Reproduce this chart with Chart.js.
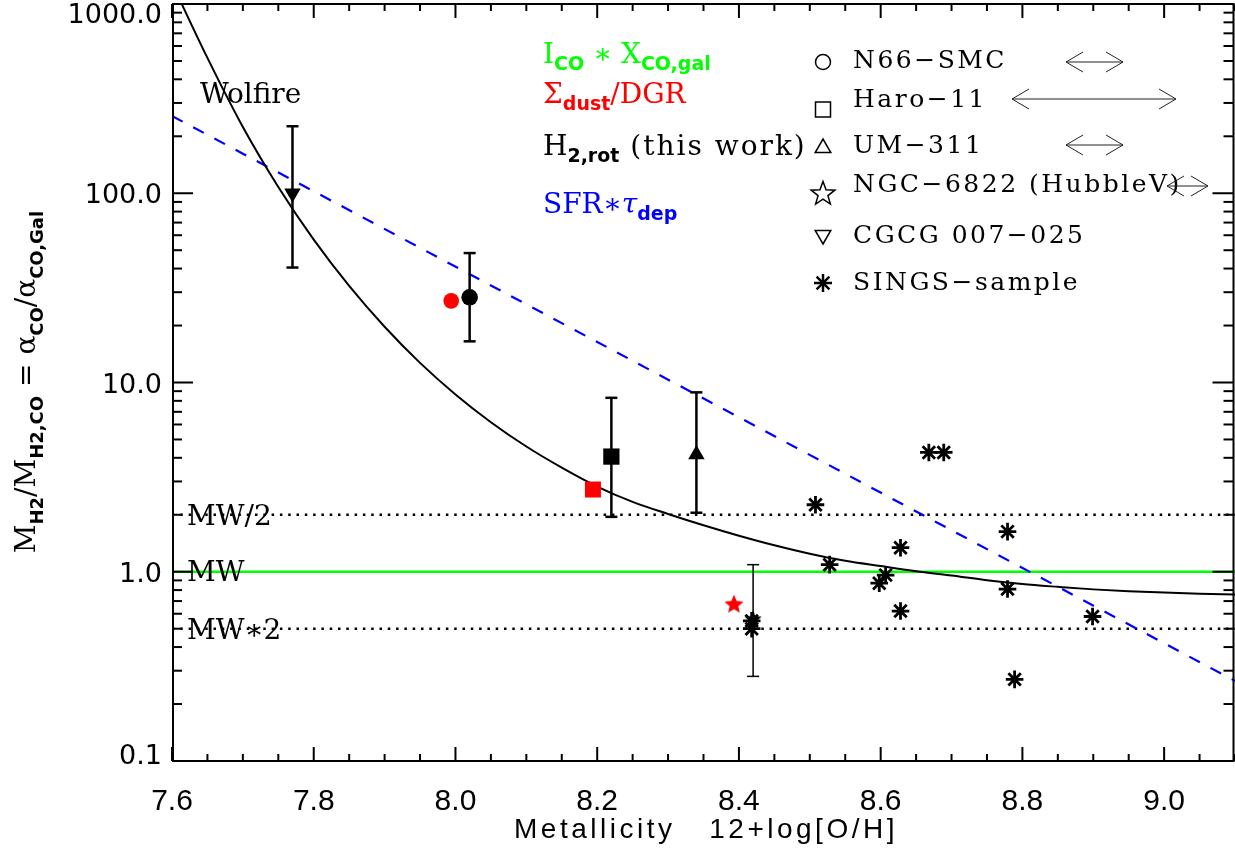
<!DOCTYPE html>
<html lang="en">
<head>
<meta charset="UTF-8">
<title>alpha_CO versus metallicity</title>
<script src="https://cdn.jsdelivr.net/npm/chart.js"></script>
<style>
  html, body { margin: 0; padding: 0; background: #fff; }
  #wrap { width: 1235px; height: 852px; }
</style>
</head>
<body>
<div id="wrap"><canvas id="alphaChart" width="1235" height="852"></canvas></div>
<script>
// Wolfire et al. model curve
const wolfireZ     = [7.60, 7.65, 7.70, 7.75, 7.80, 7.85, 7.90, 7.95, 8.00, 8.05, 8.10, 8.15, 8.20, 8.25, 8.30, 8.35, 8.40, 8.45, 8.50, 8.55, 8.60, 8.65, 8.70, 8.75, 8.80, 8.85, 8.90, 8.95, 9.00, 9.05, 9.10];
const wolfireRatio = [1288, 519, 224, 108, 56.9, 32.4, 19.7, 12.7, 8.65, 6.17, 4.59, 3.55, 2.82, 2.34, 2.02, 1.76, 1.55, 1.38, 1.245, 1.143, 1.072, 1.007, 0.955, 0.902, 0.861, 0.832, 0.807, 0.789, 0.776, 0.766, 0.759];

// SFR * tau_dep relation (straight line in log space)
const sfrZ     = [7.6, 9.1];
const sfrRatio = [256, 0.265];

// Milky Way reference levels
const mwZ = [7.6, 9.1];
const mwRatio = 1.0;
const mwHalf = 2.0;
const mwDouble = 0.5;

// H2 rotational lines (this work): CGCG 007-025, N66-SMC, Haro-11, UM-311, NGC-6822
const h2Z     = [7.77, 8.02, 8.22, 8.34, 8.42];
const h2Ratio = [100, 28.2, 4.06, 4.16, 0.56];
const h2Lo    = [40.5, 16.5, 1.95, 2.05, 0.28];
const h2Hi    = [226, 48.3, 8.3, 8.87, 1.09];

// dust mass / DGR: N66-SMC, Haro-11, NGC-6822
const dustZ     = [7.994, 8.194, 8.393];
const dustRatio = [27, 2.72, 0.67];

// SINGS sample
const singsZ     = [8.508, 8.668, 8.689, 8.528, 8.628, 8.607, 8.598, 8.628, 8.779, 8.779, 8.899, 8.789, 8.418, 8.418];
const singsRatio = [2.26, 4.27, 4.27, 1.09, 1.34, 0.96, 0.87, 0.62, 1.63, 0.81, 0.58, 0.27, 0.55, 0.50];

// axis ticks
const xTickVals = [7.6, 7.8, 8.0, 8.2, 8.4, 8.6, 8.8, 9.0];
const yTickVals = [0.1, 1, 10, 100, 1000];

const SERIF = '"DejaVu Serif", serif';
const SANS = '"DejaVu Sans", sans-serif';
const LSANS = '"Liberation Sans", sans-serif';

const pts = (xs, ys) => xs.map((v, i) => ({ x: v, y: Array.isArray(ys) ? ys[i] : ys }));

function starImage(color, R) {
    const s = Math.ceil(R * 2 + 2);
    const c = document.createElement('canvas');
    c.width = s; c.height = s;
    const g = c.getContext('2d');
    g.fillStyle = color;
    g.beginPath();
    for (let i = 0; i < 10; i++) {
        const r = i % 2 ? R * 0.45 : R;
        const a = -Math.PI / 2 + i * Math.PI / 5;
        g.lineTo(s / 2 + r * Math.cos(a), s / 2 + r * Math.sin(a));
    }
    g.closePath();
    g.fill();
    return c;
}

// text with subscripts: parts = [[text, font, dy, letterSpacing], ...]
function richWidth(ctx, parts) {
    let w = 0;
    parts.forEach(p => {
        ctx.font = p[1];
        ctx.letterSpacing = (p[3] || 0) + 'px';
        w += ctx.measureText(p[0]).width;
    });
    ctx.letterSpacing = '0px';
    return w;
}
function drawRich(ctx, parts, x, y, color, center) {
    ctx.save();
    ctx.fillStyle = color;
    ctx.textAlign = 'left';
    ctx.textBaseline = 'alphabetic';
    if (center) x -= richWidth(ctx, parts) / 2;
    parts.forEach(p => {
        ctx.font = p[1];
        ctx.letterSpacing = (p[3] || 0) + 'px';
        ctx.fillText(p[0], x, y + (p[2] || 0));
        x += ctx.measureText(p[0]).width;
    });
    ctx.restore();
}

function line(ctx, x1, y1, x2, y2) {
    ctx.beginPath(); ctx.moveTo(x1, y1); ctx.lineTo(x2, y2); ctx.stroke();
}

const errorBars = {
    id: 'errorBars',
    afterDatasetsDraw(chart) {
        const { ctx, scales: { x, y } } = chart;
        ctx.save();
        ctx.strokeStyle = '#000';
        h2Z.forEach((z, i) => {
            const px = x.getPixelForValue(z);
            const top = y.getPixelForValue(h2Hi[i]);
            const bot = y.getPixelForValue(h2Lo[i]);
            ctx.lineWidth = i === 4 ? 1.5 : 2.5;
            line(ctx, px, top, px, bot);
            line(ctx, px - 6, top, px + 6, top);
            line(ctx, px - 6, bot, px + 6, bot);
        });
        ctx.restore();
    }
};

const decorations = {
    id: 'decorations',
    afterDraw(chart) {
        const { ctx, chartArea: a, scales: { x, y } } = chart;
        ctx.save();
        ctx.strokeStyle = '#000';
        ctx.lineWidth = 2;
        ctx.strokeRect(a.left + 1, a.top, a.right - a.left - 2.5, a.bottom - a.top);

        // minor / major ticks on all four sides
        for (let i = 0; i <= 30; i++) {
            const px = x.getPixelForValue(7.6 + i * 0.05);
            const len = i % 4 === 0 ? 14 : 7;
            line(ctx, px, a.bottom, px, a.bottom - len);
            line(ctx, px, a.top, px, a.top + len);
        }
        for (let d = -1; d <= 3; d++) {
            for (let m = 1; m <= 9; m++) {
                const v = m * Math.pow(10, d);
                if (v > 1000) break;
                const py = y.getPixelForValue(v);
                const len = m === 1 ? 21 : 10;
                line(ctx, a.left, py, a.left + len, py);
                line(ctx, a.right - 1.5, py, a.right - 1.5 - len, py);
            }
        }

        // y tick labels
        ctx.fillStyle = '#000';
        ctx.font = '27px ' + SANS;
        ctx.textAlign = 'right';
        ctx.textBaseline = 'middle';
        yTickVals.forEach(v => {
            const py = Math.min(Math.max(y.getPixelForValue(v) + 3, 16), 757);
            ctx.fillText(v.toFixed(1), 162, py);
        });

        // x title
        ctx.font = '28px ' + LSANS;
        ctx.textAlign = 'left';
        ctx.textBaseline = 'alphabetic';
        ctx.letterSpacing = '3.5px';
        ctx.fillText('Metallicity   12+log[O/H]', 514, 838);
        ctx.letterSpacing = '0px';

        // y title
        const big = '28px ' + SERIF, sub = 'bold 18px ' + SANS;
        ctx.save();
        ctx.translate(35, 382);
        ctx.rotate(-Math.PI / 2);
        drawRich(ctx, [['M', big], ['H2', sub, 8], ['/M', big], ['H2,CO', sub, 8], [' = ', big],
                       ['\u03b1', big], ['CO', sub, 8], ['/\u03b1', big], ['CO,Gal', sub, 8]], 0, 0, '#000', true);
        ctx.restore();

        // reference level labels
        const lab = '28px ' + SERIF;
        ctx.font = lab;
        ctx.textAlign = 'left';
        ctx.fillText('MW/2', 187, y.getPixelForValue(mwHalf) + 10);
        ctx.fillText('MW', 187, y.getPixelForValue(mwRatio) + 9);
        ctx.fillText('MW\u22172', 187, y.getPixelForValue(mwDouble) + 10);
        ctx.fillText('Wolfire', 200, 103);

        // method key
        const s2 = 'bold 19px ' + SANS;
        drawRich(ctx, [['I', lab], ['CO', s2, 7], [' \u2217 ', lab], ['X', lab], ['CO,gal', s2, 7]], 543, 63, '#00ff00');
        drawRich(ctx, [['\u03a3', lab], ['dust', s2, 7], ['/DGR', lab]], 543, 103, '#ff0000');
        drawRich(ctx, [['H', lab], ['2,rot', s2, 7], [' (this work)', lab, 0, 2]], 543, 155, '#000');
        drawRich(ctx, [['SFR\u2217', lab], ['\u03c4', 'italic 28px ' + SERIF], ['dep', s2, 7]], 543, 213, '#0000ff');

        // object key
        ctx.font = '25px ' + SERIF;
        ctx.letterSpacing = '2.5px';
        ctx.textBaseline = 'middle';
        const names = ['N66\u2212SMC', 'Haro\u221211', 'UM\u2212311', 'NGC\u22126822 (HubbleV)', 'CGCG 007\u2212025', 'SINGS\u2212sample'];
        const rows = [61, 100, 146, 185, 236, 283];
        names.forEach((n, i) => ctx.fillText(n, 853, rows[i]));
        ctx.letterSpacing = '0px';

        ctx.lineWidth = 1.5;
        const sx = 823;
        ctx.beginPath(); ctx.arc(sx, 62, 7.5, 0, Math.PI * 2); ctx.stroke();
        ctx.strokeRect(sx - 7.5, 102, 15, 15);
        const tri = (cy, dir) => {
            ctx.beginPath();
            ctx.moveTo(sx, cy - dir * 9);
            ctx.lineTo(sx + 7.8, cy + dir * 4.5);
            ctx.lineTo(sx - 7.8, cy + dir * 4.5);
            ctx.closePath(); ctx.stroke();
        };
        tri(148, 1);
        tri(235, -1);
        ctx.beginPath();
        for (let i = 0; i < 10; i++) {
            const r = i % 2 ? 5.2 : 12.5;
            const ang = -Math.PI / 2 + i * Math.PI / 5;
            ctx.lineTo(sx + r * Math.cos(ang), 194 + r * Math.sin(ang));
        }
        ctx.closePath(); ctx.stroke();
        ctx.lineWidth = 2.5;
        line(ctx, sx, 274, sx, 292);
        line(ctx, sx - 9, 283, sx + 9, 283);
        line(ctx, sx - 6.4, 276.6, sx + 6.4, 289.4);
        line(ctx, sx - 6.4, 289.4, sx + 6.4, 276.6);

        // range arrows in the key
        ctx.lineWidth = 1;
        ctx.strokeStyle = '#222';
        [[1066, 1123, 62], [1012, 1176, 99], [1066, 1123, 145], [1167, 1208, 186]].forEach(([x1, x2, yy]) => {
            line(ctx, x1, yy, x2, yy);
            line(ctx, x1, yy, x1 + 17, yy - 10); line(ctx, x1, yy, x1 + 17, yy + 10);
            line(ctx, x2, yy, x2 - 17, yy - 10); line(ctx, x2, yy, x2 - 17, yy + 10);
        });
        ctx.restore();
    }
};

const redStar = starImage('#ff0000', 10);
const blackStar = starImage('#000000', 9);

new Chart(document.getElementById('alphaChart'), {
    type: 'scatter',
    data: {
        datasets: [
            {
                label: 'SINGS-sample', order: 0,
                data: pts(singsZ, singsRatio),
                pointStyle: 'star', pointRadius: 8.8, borderWidth: 2.8,
                borderColor: '#000', backgroundColor: '#000'
            },
            {
                label: 'H2,rot', order: 1,
                data: pts(h2Z, h2Ratio),
                pointStyle: ['triangle', 'circle', 'rect', 'triangle', blackStar],
                pointRotation: [180, 0, 0, 0, 0],
                pointRadius: [9.5, 8.3, 11.5, 9.5, 9],
                borderWidth: 0, backgroundColor: '#000', borderColor: '#000'
            },
            {
                label: 'dust/DGR', order: 2,
                data: pts(dustZ, dustRatio),
                pointStyle: ['circle', 'rect', redStar],
                pointRadius: [7.8, 11.3, 10],
                borderWidth: 0, backgroundColor: '#ff0000', borderColor: '#ff0000'
            },
            {
                label: 'Wolfire', order: 3,
                data: pts(wolfireZ, wolfireRatio),
                showLine: true, pointRadius: 0, borderColor: '#000', borderWidth: 2,
                cubicInterpolationMode: 'monotone'
            },
            {
                label: 'SFR*tau', order: 4,
                data: pts(sfrZ, sfrRatio),
                showLine: true, pointRadius: 0, borderColor: '#0000ff', borderWidth: 2.2,
                borderDash: [12, 12]
            },
            {
                label: 'MW', order: 5,
                data: pts(mwZ, mwRatio),
                showLine: true, pointRadius: 0, borderColor: '#00ff00', borderWidth: 2.5
            },
            {
                label: 'MW/2', order: 6,
                data: pts(mwZ, mwHalf),
                showLine: true, pointRadius: 0, borderColor: '#000', borderWidth: 2.5,
                borderDash: [2.5, 5.8]
            },
            {
                label: 'MW*2', order: 7,
                data: pts(mwZ, mwDouble),
                showLine: true, pointRadius: 0, borderColor: '#000', borderWidth: 2.5,
                borderDash: [2.5, 5.8]
            }
        ]
    },
    options: {
        responsive: false,
        animation: false,
        devicePixelRatio: 1,
        layout: { autoPadding: false, padding: { top: 4, right: 0, bottom: 0, left: 0 } },
        plugins: { legend: { display: false }, tooltip: { enabled: false } },
        scales: {
            x: {
                type: 'linear', min: 7.6, max: 9.1,
                grid: { display: false }, border: { display: false },
                afterBuildTicks: s => { s.ticks = xTickVals.map(v => ({ value: v })); },
                afterFit: s => { s.height = 91; s.paddingLeft = 0; s.paddingRight = 0; },
                ticks: {
                    color: '#000', padding: 15, maxRotation: 0, autoSkip: false,
                    font: { family: LSANS, size: 30 },
                    callback: v => v.toFixed(1)
                }
            },
            y: {
                type: 'logarithmic', min: 0.1, max: 1000,
                grid: { display: false }, border: { display: false },
                ticks: { display: false },
                afterFit: s => { s.width = 172; s.paddingTop = 0; s.paddingBottom = 0; }
            }
        }
    },
    plugins: [errorBars, decorations]
});
</script>
</body>
</html>
